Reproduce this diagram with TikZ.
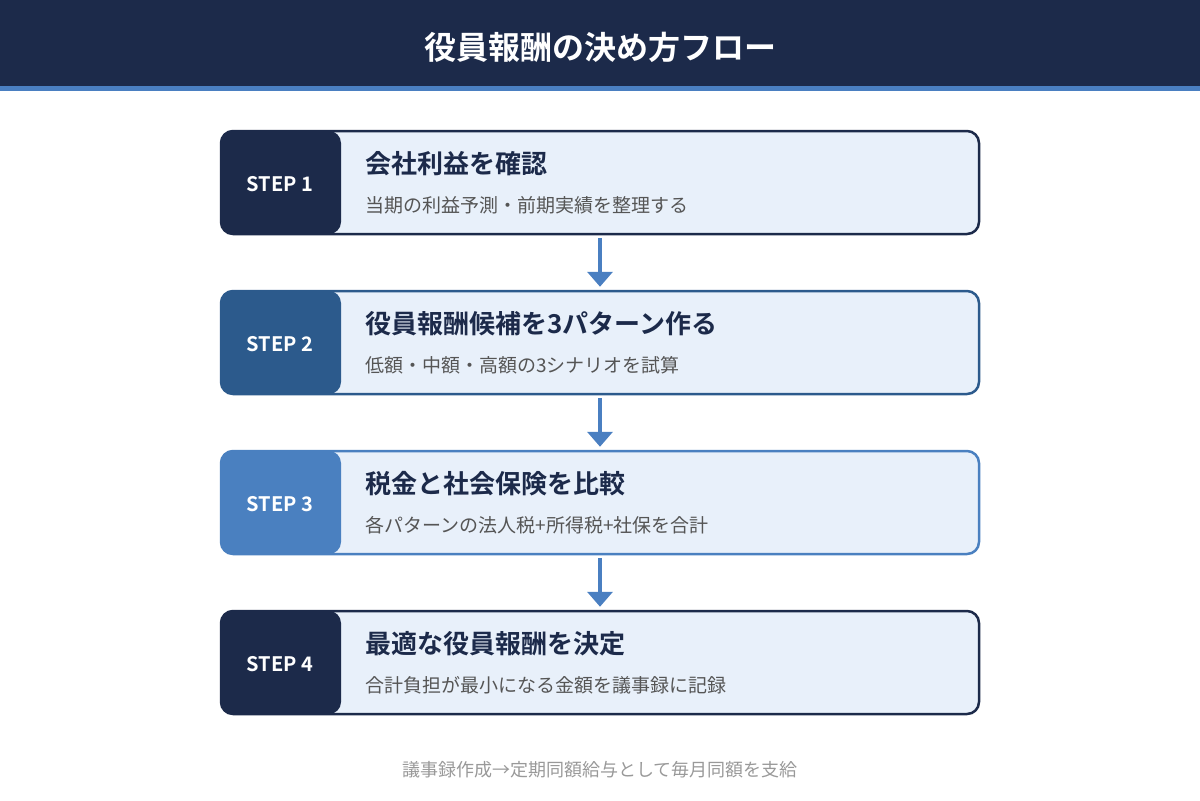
\documentclass[tikz,border=0pt]{standalone}
\usepackage{fontspec}
\setmainfont{Noto Sans CJK JP}[BoldFont={Noto Sans CJK JP Bold}]
\usepackage{xcolor}
\usepackage{tikz}
\usetikzlibrary{arrows.meta}

\definecolor{navy}{HTML}{1C2A4A}
\definecolor{midblue}{HTML}{2C5A8C}
\definecolor{lightblue}{HTML}{4A80C0}
\definecolor{accent}{HTML}{4A7FC1}
\definecolor{boxfill}{HTML}{E8F0FA}
\definecolor{subgray}{HTML}{555555}
\definecolor{footgray}{HTML}{999999}

\tikzset{
  stepbox/.style={draw=#1, line width=1.25pt, rounded corners=6pt, fill=boxfill,
    minimum width=379pt, minimum height=51.5pt, inner sep=0pt,
    path picture={\fill[#1] (path picture bounding box.north west) rectangle ([xshift=60pt]path picture bounding box.south west);}},
  steplabel/.style={text=white, font=\bfseries\fontsize{10pt}{12pt}\selectfont},
  headtext/.style={anchor=west, inner sep=0pt, text=navy, font=\bfseries\fontsize{13pt}{15pt}\selectfont},
  subtext/.style={anchor=west, inner sep=0pt, text=subgray, font=\fontsize{9.5pt}{11pt}\selectfont},
  flow/.style={draw=accent, line width=2pt, -{Triangle[width=12.5pt,length=7.5pt]}, shorten <=1.5pt, shorten >=1.5pt}
}

\begin{document}
\begin{tikzpicture}[x=0.5pt,y=-0.5pt]
    \useasboundingbox (0,0) rectangle (1200,800);
    \fill[navy] (0,0) rectangle (1200,86);
    \fill[accent] (0,86) rectangle (1200,91);
    \node[text=white, font=\bfseries\fontsize{16pt}{19pt}\selectfont] (title) at (600,47) {役員報酬の決め方フロー};

    \node[stepbox=navy] (s1) at (600,182.5) {};
    \node[steplabel] (l1) at (280,184) {STEP 1};
    \node[headtext] (h1) at (365,164) {会社利益を確認};
    \node[subtext] (d1) at (365,205) {当期の利益予測・前期実績を整理する};

    \node[stepbox=midblue] (s2) at (600,342.5) {};
    \node[steplabel] (l2) at (280,344) {STEP 2};
    \node[headtext] (h2) at (365,324) {役員報酬候補を3パターン作る};
    \node[subtext] (d2) at (365,365) {低額・中額・高額の3シナリオを試算};

    \node[stepbox=lightblue] (s3) at (600,502.5) {};
    \node[steplabel] (l3) at (280,504) {STEP 3};
    \node[headtext] (h3) at (365,484) {税金と社会保険を比較};
    \node[subtext] (d3) at (365,525) {各パターンの法人税+所得税+社保を合計};

    \node[stepbox=navy] (s4) at (600,662.5) {};
    \node[steplabel] (l4) at (280,664) {STEP 4};
    \node[headtext] (h4) at (365,644) {最適な役員報酬を決定};
    \node[subtext] (d4) at (365,685) {合計負担が最小になる金額を議事録に記録};

    \draw[flow] (s1.south) -- (s2.north);
    \draw[flow] (s2.south) -- (s3.north);
    \draw[flow] (s3.south) -- (s4.north);

    \node[text=footgray, font=\fontsize{9pt}{11pt}\selectfont] (note) at (600,770) {議事録作成→定期同額給与として毎月同額を支給};
\end{tikzpicture}
\end{document}
